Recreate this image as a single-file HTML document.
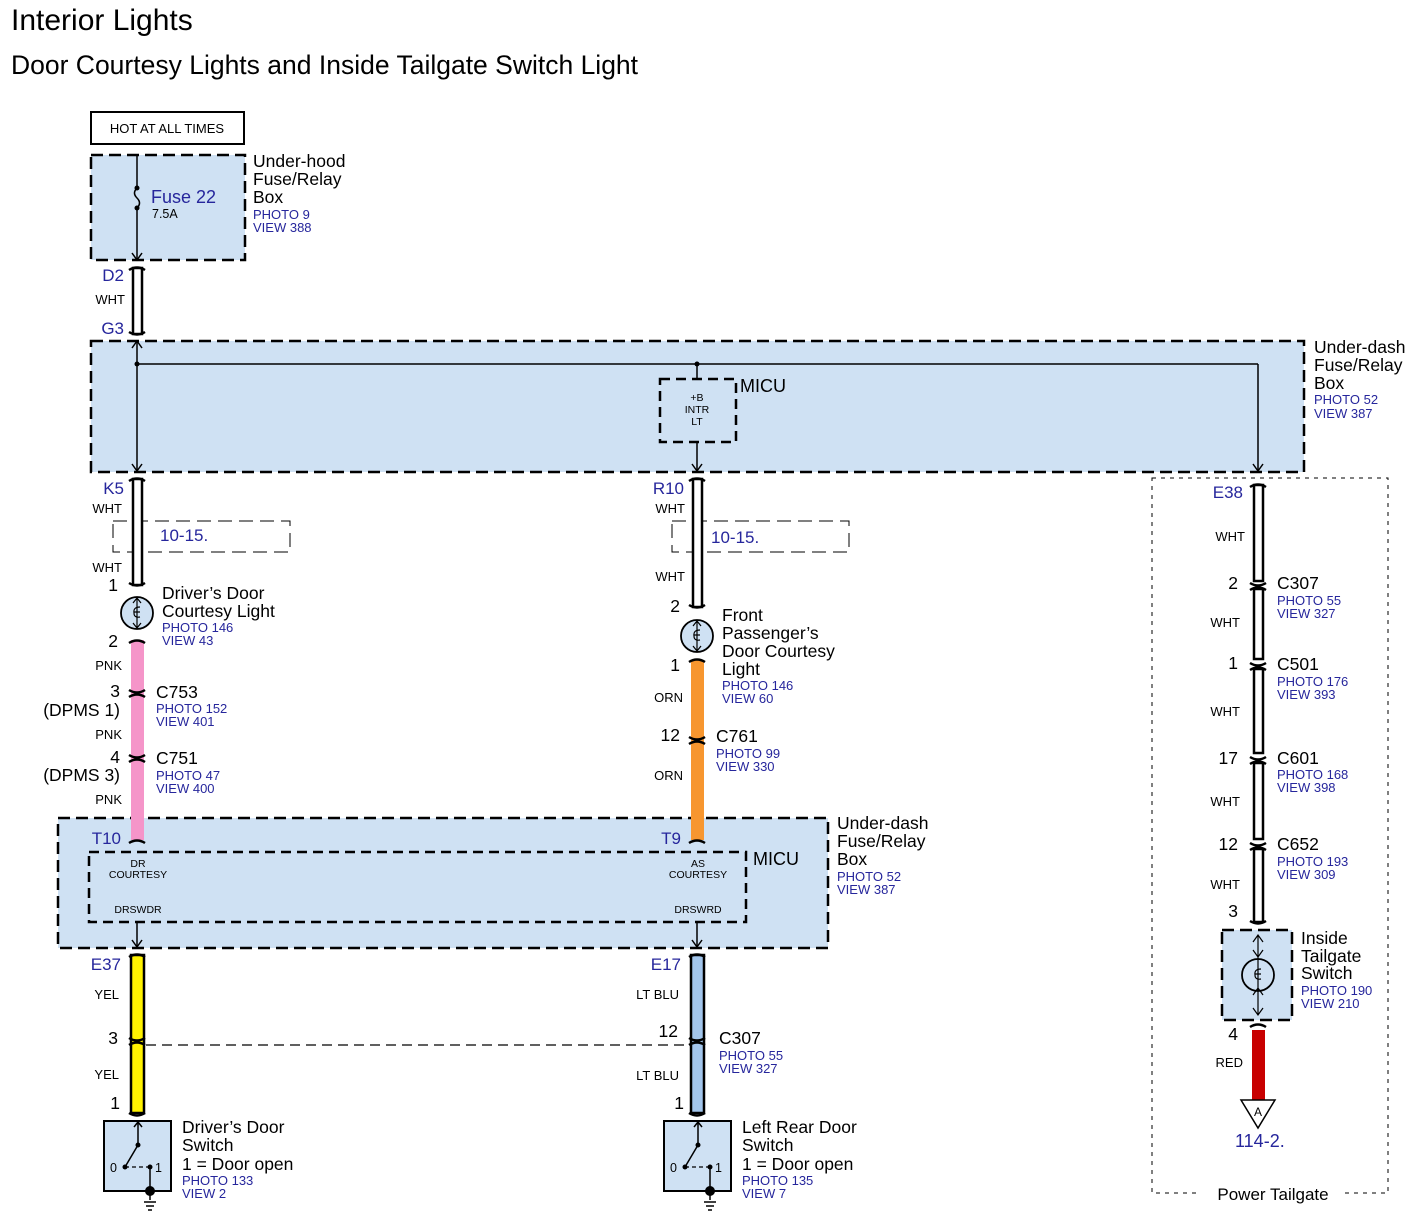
<!DOCTYPE html>
<html><head><meta charset="utf-8"><style>
html,body{margin:0;padding:0;background:#fff}
svg{display:block;font-family:"Liberation Sans",Arial,sans-serif}
.b{fill:#26269c}
</style></head><body>
<svg width="1414" height="1214" viewBox="0 0 1414 1214" xmlns="http://www.w3.org/2000/svg">
<text x="11" y="30" font-size="30">Interior Lights</text>
<text x="11" y="74" font-size="26.5">Door Courtesy Lights and Inside Tailgate Switch Light</text>

<rect x="91" y="112" width="153" height="32" fill="#fff" stroke="#000" stroke-width="2"/>
<text x="167" y="133" font-size="13" text-anchor="middle">HOT AT ALL TIMES</text>

<g stroke="#000" stroke-width="2.5" stroke-dasharray="12,6" fill="#cfe1f3">
<rect x="91" y="155" width="154" height="105"/>
<rect x="91" y="341" width="1213" height="131"/>
<rect x="58" y="818" width="770" height="130"/>
<rect x="1222" y="930" width="70" height="90"/>
</g>
<g stroke="#000" stroke-width="2.5" stroke-dasharray="10,6" fill="none">
<rect x="660" y="379" width="76" height="63"/>
<rect x="89" y="852" width="657" height="70"/>
</g>
<g stroke="#000" stroke-width="1" stroke-dasharray="14,7" fill="none">
<rect x="113" y="521" width="177" height="31"/>
<rect x="672" y="521" width="177" height="31"/>
</g>
<rect x="1152" y="478" width="236" height="715" fill="none" stroke="#000" stroke-width="1" stroke-dasharray="4,5"/>
<rect x="1200" y="1182" width="140" height="22" fill="#fff"/>
<text x="1273" y="1200" font-size="17" text-anchor="middle">Power Tailgate</text>

<g stroke="#000" stroke-width="1.5" fill="none">
<line x1="137" y1="155" x2="137" y2="188"/>
<path d="M137 188 q-5 5 0 10 q5 5 0 10 "/>
<line x1="137" y1="208" x2="137" y2="260"/>
<path d="M132 253 l5 7 l5 -7"/>
</g>
<circle cx="137" cy="188" r="2.5"/><circle cx="137" cy="208" r="2.5"/>
<text x="151" y="203" font-size="18" class="b">Fuse 22</text>
<text x="152" y="218" font-size="12.5">7.5A</text>
<text x="253" y="167" font-size="17.5">Under-hood</text>
<text x="253" y="185" font-size="17.5">Fuse/Relay</text>
<text x="253" y="203" font-size="17.5">Box</text>
<text x="253" y="219" font-size="13" class="b">PHOTO 9</text>
<text x="253" y="232" font-size="13" class="b">VIEW 388</text>

<g fill="#fff" stroke="#000" stroke-width="2.5">
<rect x="133" y="268" width="9" height="66"/>
<rect x="133" y="479" width="9" height="106"/>
<rect x="693" y="479" width="9" height="128"/>
<rect x="1254" y="485" width="9" height="96"/>
<rect x="1254" y="589" width="9" height="70"/>
<rect x="1254" y="669" width="9" height="84"/>
<rect x="1254" y="763" width="9" height="76"/>
<rect x="1254" y="849" width="9" height="73"/>
</g>
<rect x="131" y="640" width="13" height="200" fill="#f595c9"/>
<rect x="691" y="660" width="13" height="180" fill="#f7962f"/>
<rect x="131" y="955" width="13" height="158" fill="#fff200" stroke="#000" stroke-width="2.5"/>
<rect x="691" y="955" width="13" height="158" fill="#a3c6ec" stroke="#000" stroke-width="2.5"/>
<rect x="1252" y="1030" width="13" height="70" fill="#c80000"/>

<g stroke="#000" stroke-width="2.5" fill="none">
<path d="M129 270 q8 -5 16 0 M129 332 q8 5 16 0"/>
<path d="M129 481 q8 -5 16 0 M129 583 q8 5 16 0"/>
<path d="M689 481 q8 -5 16 0 M689 605 q8 5 16 0"/>
<path d="M1250 487 q8 -5 16 0"/>
<path d="M129 643 q8 -5 16 0 M689 662 q8 -5 16 0"/>
<path d="M129 690 q8 5 16 0 M129 697 q8 -5 16 0"/>
<path d="M129 755 q8 5 16 0 M129 762 q8 -5 16 0"/>
<path d="M689 737 q8 5 16 0 M689 744 q8 -5 16 0"/>
<path d="M129 843 q8 -5 16 0 M689 843 q8 -5 16 0"/>
<path d="M129 957 q8 -5 16 0 M689 957 q8 -5 16 0"/>
<path d="M129 1038 q8 5 16 0 M129 1045 q8 -5 16 0"/>
<path d="M689 1038 q8 5 16 0 M689 1045 q8 -5 16 0"/>
<path d="M129 1113 q8 5 16 0 M689 1113 q8 5 16 0"/>
<path d="M1250 583 q8 5 16 0 M1250 590 q8 -5 16 0"/>
<path d="M1250 663 q8 5 16 0 M1250 670 q8 -5 16 0"/>
<path d="M1250 757 q8 5 16 0 M1250 764 q8 -5 16 0"/>
<path d="M1250 843 q8 5 16 0 M1250 850 q8 -5 16 0"/>
<path d="M1250 921 q8 5 16 0 M1250 1027 q8 -5 16 0"/>
</g>

<g stroke="#000" stroke-width="1.5" fill="none">
<line x1="137" y1="341" x2="137" y2="471"/>
<path d="M132 348 l5 -7 l5 7"/>
<line x1="137" y1="364" x2="1258" y2="364"/>
<line x1="697" y1="364" x2="697" y2="379"/>
<line x1="697" y1="442" x2="697" y2="471"/>
<line x1="1258" y1="364" x2="1258" y2="471"/>
<path d="M132 464 l5 7 l5 -7 M692 464 l5 7 l5 -7 M1253 464 l5 7 l5 -7"/>
<line x1="137" y1="922" x2="137" y2="947"/>
<line x1="697" y1="922" x2="697" y2="947"/>
<path d="M132 940 l5 7 l5 -7 M692 940 l5 7 l5 -7"/>
</g>
<circle cx="137" cy="364" r="2.5"/><circle cx="697" cy="364" r="2.5"/>
<text x="697" y="401" font-size="10.5" text-anchor="middle">+B</text>
<text x="697" y="413" font-size="10.5" text-anchor="middle">INTR</text>
<text x="697" y="425" font-size="10.5" text-anchor="middle">LT</text>
<text x="740" y="392" font-size="18">MICU</text>
<text x="1314" y="353" font-size="17.5">Under-dash</text>
<text x="1314" y="371" font-size="17.5">Fuse/Relay</text>
<text x="1314" y="389" font-size="17.5">Box</text>
<text x="1314" y="404" font-size="13" class="b">PHOTO 52</text>
<text x="1314" y="418" font-size="13" class="b">VIEW 387</text>

<g class="b" font-size="17" text-anchor="end">
<text x="124" y="281">D2</text>
<text x="124" y="334">G3</text>
<text x="124" y="494">K5</text>
<text x="684" y="494">R10</text>
<text x="1243" y="498">E38</text>
<text x="121" y="844">T10</text>
<text x="681" y="844">T9</text>
<text x="121" y="970">E37</text>
<text x="681" y="970">E17</text>
</g>
<g font-size="13" text-anchor="end">
<text x="125" y="304">WHT</text>
<text x="122" y="513">WHT</text>
<text x="122" y="572">WHT</text>
<text x="685" y="513">WHT</text>
<text x="685" y="581">WHT</text>
<text x="122" y="670">PNK</text>
<text x="122" y="739">PNK</text>
<text x="122" y="804">PNK</text>
<text x="683" y="702">ORN</text>
<text x="683" y="780">ORN</text>
<text x="119" y="999">YEL</text>
<text x="119" y="1079">YEL</text>
<text x="679" y="999">LT BLU</text>
<text x="679" y="1080">LT BLU</text>
<text x="1245" y="541">WHT</text>
<text x="1240" y="627">WHT</text>
<text x="1240" y="716">WHT</text>
<text x="1240" y="806">WHT</text>
<text x="1240" y="889">WHT</text>
<text x="1243" y="1067">RED</text>
</g>
<g font-size="17.5" text-anchor="end">
<text x="118" y="591">1</text>
<text x="118" y="647">2</text>
<text x="120" y="697">3</text>
<text x="120" y="763">4</text>
<text x="680" y="612">2</text>
<text x="680" y="671">1</text>
<text x="680" y="741">12</text>
<text x="118" y="1044">3</text>
<text x="120" y="1109">1</text>
<text x="678" y="1037">12</text>
<text x="684" y="1109">1</text>
<text x="1238" y="589">2</text>
<text x="1238" y="669">1</text>
<text x="1238" y="764">17</text>
<text x="1238" y="850">12</text>
<text x="1238" y="917">3</text>
<text x="1238" y="1040">4</text>
<text x="120" y="716">(DPMS 1)</text>
<text x="120" y="781">(DPMS 3)</text>
</g>
<text x="160" y="541" font-size="17" class="b">10-15.</text>
<text x="711" y="543" font-size="17" class="b">10-15.</text>

<g stroke="#000" stroke-width="1.8" fill="#cfe1f3">
<circle cx="137" cy="613" r="16"/>
<circle cx="697" cy="636" r="16"/>
<circle cx="1258" cy="975" r="16"/>
</g>
<g stroke="#000" stroke-width="1.2" fill="none">
<path d="M137 598 v30 M133 603 l4 -5 l4 5 M133 623 l4 5 l4 -5 M140 607 q-7 0 -6 6 q0 5 6 4 M134 612 h6"/>
<path d="M697 621 v30 M693 626 l4 -5 l4 5 M693 646 l4 5 l4 -5 M700 630 q-7 0 -6 6 q0 5 6 4 M694 635 h6"/>
<path d="M1258 935 v80 M1253 942 l5 -7 l5 7 M1253 950 l5 7 l5 -7 M1253 995 l5 -7 l5 7 M1253 1008 l5 7 l5 -7 M1261 969 q-7 0 -6 6 q0 5 6 4 M1255 974 h6"/>
</g>
<text x="162" y="599" font-size="17.5">Driver’s Door</text>
<text x="162" y="617" font-size="17.5">Courtesy Light</text>
<text x="162" y="632" font-size="13" class="b">PHOTO 146</text>
<text x="162" y="645" font-size="13" class="b">VIEW 43</text>
<text x="722" y="621" font-size="17.5">Front</text>
<text x="722" y="639" font-size="17.5">Passenger’s</text>
<text x="722" y="657" font-size="17.5">Door Courtesy</text>
<text x="722" y="675" font-size="17.5">Light</text>
<text x="722" y="690" font-size="13" class="b">PHOTO 146</text>
<text x="722" y="703" font-size="13" class="b">VIEW 60</text>

<text x="156" y="698" font-size="17.5">C753</text>
<text x="156" y="713" font-size="13" class="b">PHOTO 152</text>
<text x="156" y="726" font-size="13" class="b">VIEW 401</text>
<text x="156" y="764" font-size="17.5">C751</text>
<text x="156" y="780" font-size="13" class="b">PHOTO 47</text>
<text x="156" y="793" font-size="13" class="b">VIEW 400</text>
<text x="716" y="742" font-size="17.5">C761</text>
<text x="716" y="758" font-size="13" class="b">PHOTO 99</text>
<text x="716" y="771" font-size="13" class="b">VIEW 330</text>

<text x="1277" y="589" font-size="17.5">C307</text>
<text x="1277" y="605" font-size="13" class="b">PHOTO 55</text>
<text x="1277" y="618" font-size="13" class="b">VIEW 327</text>
<text x="1277" y="670" font-size="17.5">C501</text>
<text x="1277" y="686" font-size="13" class="b">PHOTO 176</text>
<text x="1277" y="699" font-size="13" class="b">VIEW 393</text>
<text x="1277" y="764" font-size="17.5">C601</text>
<text x="1277" y="779" font-size="13" class="b">PHOTO 168</text>
<text x="1277" y="792" font-size="13" class="b">VIEW 398</text>
<text x="1277" y="850" font-size="17.5">C652</text>
<text x="1277" y="866" font-size="13" class="b">PHOTO 193</text>
<text x="1277" y="879" font-size="13" class="b">VIEW 309</text>
<text x="1301" y="944" font-size="17.5">Inside</text>
<text x="1301" y="962" font-size="17.5">Tailgate</text>
<text x="1301" y="979" font-size="17.5">Switch</text>
<text x="1301" y="995" font-size="13" class="b">PHOTO 190</text>
<text x="1301" y="1008" font-size="13" class="b">VIEW 210</text>

<text x="138" y="867" font-size="10.5" text-anchor="middle">DR</text>
<text x="138" y="878" font-size="10.5" text-anchor="middle">COURTESY</text>
<text x="138" y="913" font-size="10.5" text-anchor="middle">DRSWDR</text>
<text x="698" y="867" font-size="10.5" text-anchor="middle">AS</text>
<text x="698" y="878" font-size="10.5" text-anchor="middle">COURTESY</text>
<text x="698" y="913" font-size="10.5" text-anchor="middle">DRSWRD</text>
<text x="753" y="865" font-size="18">MICU</text>
<text x="837" y="829" font-size="17.5">Under-dash</text>
<text x="837" y="847" font-size="17.5">Fuse/Relay</text>
<text x="837" y="865" font-size="17.5">Box</text>
<text x="837" y="881" font-size="13" class="b">PHOTO 52</text>
<text x="837" y="894" font-size="13" class="b">VIEW 387</text>

<line x1="146" y1="1045" x2="689" y2="1045" stroke="#000" stroke-width="1.2" stroke-dasharray="10,6"/>
<text x="719" y="1044" font-size="17.5">C307</text>
<text x="719" y="1060" font-size="13" class="b">PHOTO 55</text>
<text x="719" y="1073" font-size="13" class="b">VIEW 327</text>

<g stroke="#000" stroke-width="2" fill="#cfe1f3">
<rect x="104" y="1121" width="67" height="70"/>
<rect x="664" y="1121" width="67" height="70"/>
</g>
<g stroke="#000" stroke-width="1.5" fill="none">
<path d="M138 1145 v-23 M134 1127 l4 -5 l4 5 M138 1145 l-13 22 M150 1167 v21"/>
<path d="M698 1145 v-23 M694 1127 l4 -5 l4 5 M698 1145 l-13 22 M710 1167 v21"/>
<path d="M144 1202 h12 M146 1206 h8 M148 1210 h4 M704 1202 h12 M706 1206 h8 M708 1210 h4 M150 1192 v8 M710 1192 v8"/>
</g>
<path d="M125 1167 h25 M685 1167 h25" stroke="#000" stroke-width="1.2" stroke-dasharray="4,3"/>
<g>
<circle cx="138" cy="1145" r="2.5"/><circle cx="125" cy="1167" r="2.5"/><circle cx="150" cy="1167" r="2.5"/><circle cx="150" cy="1191" r="5"/>
<circle cx="698" cy="1145" r="2.5"/><circle cx="685" cy="1167" r="2.5"/><circle cx="710" cy="1167" r="2.5"/><circle cx="710" cy="1191" r="5"/>
</g>
<text x="110" y="1172" font-size="12.5">0</text><text x="155" y="1172" font-size="12.5">1</text>
<text x="670" y="1172" font-size="12.5">0</text><text x="715" y="1172" font-size="12.5">1</text>
<text x="182" y="1133" font-size="17.5">Driver’s Door</text>
<text x="182" y="1151" font-size="17.5">Switch</text>
<text x="182" y="1170" font-size="17.5">1 = Door open</text>
<text x="182" y="1185" font-size="13" class="b">PHOTO 133</text>
<text x="182" y="1198" font-size="13" class="b">VIEW 2</text>
<text x="742" y="1133" font-size="17.5">Left Rear Door</text>
<text x="742" y="1151" font-size="17.5">Switch</text>
<text x="742" y="1170" font-size="17.5">1 = Door open</text>
<text x="742" y="1185" font-size="13" class="b">PHOTO 135</text>
<text x="742" y="1198" font-size="13" class="b">VIEW 7</text>

<path d="M1241 1100 h34 l-17 28 z" fill="#fff" stroke="#000" stroke-width="1.5"/>
<text x="1258" y="1116" font-size="12" text-anchor="middle">A</text>
<text x="1235" y="1147" font-size="18" class="b">114-2.</text>
</svg>
</body></html>
